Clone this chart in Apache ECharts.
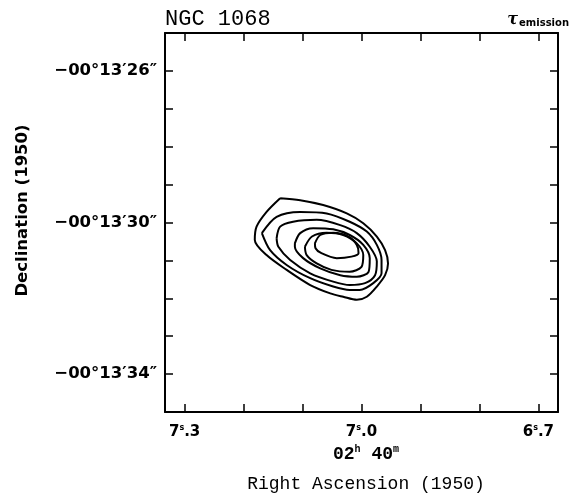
<!DOCTYPE html>
<html lang="en">
<head>
<meta charset="UTF-8">
<title>NGC 1068</title>
<script src="https://cdn.jsdelivr.net/npm/echarts@6/dist/echarts.min.js"></script>
</head>
<body style="margin:0;background:#fff">
<div id="main" style="width:576px;height:504px"></div>
<script>
// RA in seconds of time (02h 40m xx s), Dec in arcsec (-00d 13' xx")
var raTicks = [7.3, 7.2, 7.1, 7.0, 6.9, 6.8, 6.7];
var raLabels = [7.3, 7.0, 6.7];
var decTicks = [26, 27, 28, 29, 30, 31, 32, 33, 34];
var decLabels = [26, 30, 34];

var contour1 = [[7.138,29.36],[7.104,29.41],[7.065,29.54],[7.025,29.76],[6.997,30.02],[6.974,30.37],[6.960,30.73],[6.955,31.08],[6.960,31.39],[6.974,31.69],[6.991,31.96],[7.008,32.04],[7.031,31.96],[7.053,31.87],[7.087,31.65],[7.127,31.25],[7.161,30.86],[7.181,30.46],[7.178,30.11],[7.161,29.72],[7.138,29.36]];
var contour2 = [[7.169,30.28],[7.144,29.85],[7.104,29.72],[7.059,29.76],[7.020,29.98],[6.991,30.24],[6.974,30.59],[6.966,30.99],[6.966,31.34],[6.980,31.60],[7.003,31.78],[7.020,31.78],[7.048,31.69],[7.087,31.47],[7.127,31.12],[7.155,30.73],[7.169,30.28]];
var contour3 = [[7.144,30.42],[7.138,30.11],[7.116,29.98],[7.076,29.93],[7.036,30.07],[7.008,30.28],[6.986,30.64],[6.974,31.03],[6.977,31.39],[6.994,31.60],[7.020,31.65],[7.048,31.56],[7.087,31.34],[7.121,30.99],[7.141,30.64],[7.144,30.42]];
var contour4 = [[7.113,30.55],[7.104,30.28],[7.082,30.15],[7.048,30.18],[7.020,30.33],[6.997,30.59],[6.986,30.94],[6.988,31.30],[7.008,31.43],[7.036,31.39],[7.070,31.21],[7.099,30.94],[7.113,30.64],[7.113,30.55]];
var contour5 = [[7.096,30.64],[7.084,30.37],[7.059,30.27],[7.031,30.33],[7.008,30.55],[6.997,30.86],[7.000,31.17],[7.020,31.30],[7.051,31.25],[7.076,31.08],[7.093,30.86],[7.096,30.64]];
var contour6 = [[7.079,30.55],[7.070,30.33],[7.048,30.27],[7.022,30.37],[7.008,30.59],[7.005,30.81],[7.017,30.90],[7.042,30.94],[7.068,30.81],[7.078,30.68],[7.079,30.55]];

var contours = [contour1, contour2, contour3, contour4, contour5, contour6];

var chart = echarts.init(document.getElementById('main'));

var frame = { show: true, lineStyle: { color: '#000', width: 2 } };
var tick = { show: true, inside: true, length: 8, lineStyle: { color: '#000', width: 1.5 } };

var option = {
    backgroundColor: '#fff',
    animation: false,
    title: [
        {
            text: 'NGC 1068', left: 160, top: 3,
            textStyle: { fontFamily: 'Liberation Mono', fontWeight: 'normal', fontSize: 22, color: '#000' }
        },
        {
            text: '{t|τ}{e|emission}', right: 2, top: 7,
            textStyle: {
                rich: {
                    t: { fontFamily: 'DejaVu Serif', fontStyle: 'italic', fontSize: 16, color: '#000' },
                    e: { fontFamily: 'DejaVu Sans', fontWeight: 'bold', fontSize: 10, color: '#000', padding: [6, 0, 0, 1] }
                }
            }
        },
        {
            text: '{n|02}{p|h}{n| 40}{p|m}', left: 361, top: 439, textAlign: 'center',
            textStyle: {
                rich: {
                    n: { fontFamily: 'Liberation Mono', fontWeight: 'bold', fontSize: 18, color: '#000' },
                    p: { fontFamily: 'Liberation Mono', fontSize: 10, fontWeight: 'bold', color: '#000', padding: [0, 0, 10, 0] }
                }
            }
        },
        {
            text: 'Right Ascension (1950)', left: 361, top: 470, textAlign: 'center',
            textStyle: { fontFamily: 'Liberation Mono', fontWeight: 'normal', fontSize: 18, color: '#000' }
        }
    ],
    grid: { left: 165, right: 18, top: 33, bottom: 92 },
    xAxis: [
        {
            type: 'value', position: 'bottom', inverse: true,
            min: 6.6667, max: 7.3333,
            splitLine: { show: false },
            axisLine: frame,
            axisTick: Object.assign({ customValues: raTicks }, tick),
            axisLabel: {
                customValues: raLabels, margin: 12,
                formatter: function (v) {
                    var s = v.toFixed(1).split('.');
                    return '{a|' + s[0] + '}{s|s}{a|.' + s[1] + '}';
                },
                rich: {
                    a: { fontFamily: 'DejaVu Sans', fontWeight: 'bold', fontSize: 15, color: '#000' },
                    s: { fontFamily: 'DejaVu Sans', fontWeight: 'bold', fontSize: 8, color: '#000', padding: [0, 0, 9, 0] }
                }
            }
        },
        {
            type: 'value', position: 'top', inverse: true,
            min: 6.6667, max: 7.3333,
            splitLine: { show: false },
            axisLine: frame,
            axisTick: Object.assign({ customValues: raTicks }, tick),
            axisLabel: { show: false }
        }
    ],
    yAxis: [
        {
            type: 'value', position: 'left', inverse: true,
            min: 25, max: 35,
            splitLine: { show: false },
            axisLine: frame,
            axisTick: Object.assign({ customValues: decTicks }, tick),
            axisLabel: {
                customValues: decLabels, margin: 8,
                fontFamily: 'DejaVu Sans', fontWeight: 'bold', fontSize: 16.5, color: '#000',
                formatter: function (v) { return '\u221200\u00b013\u2032' + v + '\u2033'; }
            },
            name: 'Declination (1950)', nameLocation: 'middle', nameGap: 134, nameRotate: 90,
            nameTextStyle: { fontFamily: 'DejaVu Sans', fontWeight: 'bold', fontSize: 16.5, color: '#000', padding: [0, 0, 0, 24] }
        },
        {
            type: 'value', position: 'right', inverse: true,
            min: 25, max: 35,
            splitLine: { show: false },
            axisLine: frame,
            axisTick: Object.assign({ customValues: decTicks }, tick),
            axisLabel: { show: false }
        }
    ],
    series: contours.map(function (c, i) {
        return {
            name: 'contour ' + (i + 1),
            type: 'line',
            xAxisIndex: 0, yAxisIndex: 0,
            data: c,
            showSymbol: false,
            smooth: 0.3,
            silent: true,
            lineStyle: { color: '#000', width: 2 }
        };
    })
};

chart.setOption(option);
</script>
</body>
</html>
